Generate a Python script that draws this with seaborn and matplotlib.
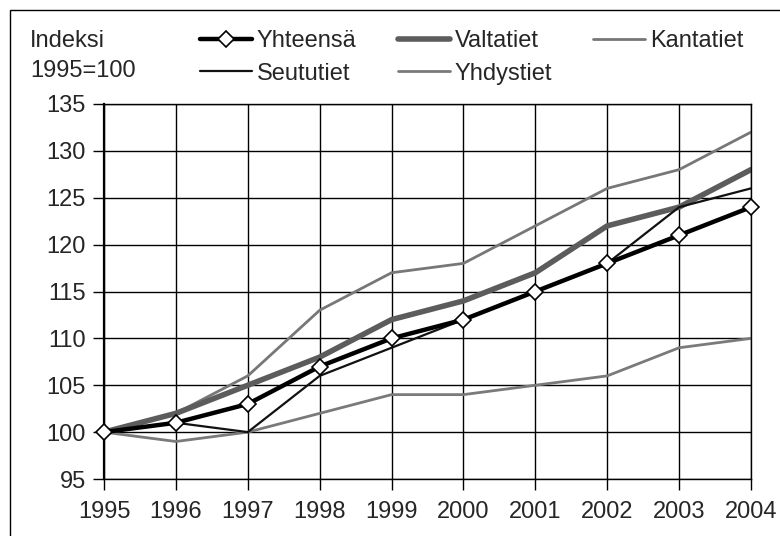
import pandas as pd
import matplotlib.pyplot as plt
import seaborn as sns
from matplotlib.patches import Rectangle

# Liikenteen kehitys, indeksi 1995=100
vuodet = [1995, 1996, 1997, 1998, 1999, 2000, 2001, 2002, 2003, 2004]
yhteensa = [100, 101, 103, 107, 110, 112, 115, 118, 121, 124]
valtatiet = [100, 102, 105, 108, 112, 114, 117, 122, 124, 128]
kantatiet = [100, 102, 106, 113, 117, 118, 122, 126, 128, 132]
seututiet = [100, 101, 100, 106, 109, 112, 115, 118, 124, 126]
yhdystiet = [100, 99, 100, 102, 104, 104, 105, 106, 109, 110]

df = pd.DataFrame({
    "Vuosi": vuodet,
    "Yhteensä": yhteensa,
    "Valtatiet": valtatiet,
    "Kantatiet": kantatiet,
    "Seututiet": seututiet,
    "Yhdystiet": yhdystiet,
})

sns.set_style("white")
plt.rcParams["font.family"] = ["Liberation Sans", "DejaVu Sans"]
plt.rcParams["font.size"] = 17

fig = plt.figure(figsize=(7.8, 5.36), dpi=100)
ax = fig.add_axes([104 / 780, 1 - 479 / 536, (751 - 104) / 780, (479 - 104) / 536])

# piirtojärjestys: ohuet alle, kokonaissumma päällimmäiseksi
sns.lineplot(data=df, x="Vuosi", y="Yhdystiet", ax=ax, color="#7a7a7a", lw=2, label="Yhdystiet")
sns.lineplot(data=df, x="Vuosi", y="Kantatiet", ax=ax, color="#777777", lw=2, label="Kantatiet")
sns.lineplot(data=df, x="Vuosi", y="Valtatiet", ax=ax, color="#5c5c5c", lw=4, label="Valtatiet")
sns.lineplot(data=df, x="Vuosi", y="Seututiet", ax=ax, color="#111111", lw=1.6, label="Seututiet")
sns.lineplot(data=df, x="Vuosi", y="Yhteensä", ax=ax, color="black", lw=3.2, marker="D",
             markersize=8, markerfacecolor="white", markeredgecolor="black",
             markeredgewidth=1.2, label="Yhteensä", clip_on=False, zorder=5)

ax.set_xlim(1995, 2004)
ax.set_ylim(95, 135)
ax.set_xticks(vuodet)
ax.set_yticks(range(95, 136, 5))
ax.set_xlabel("")
ax.set_ylabel("")
ax.grid(True, color="black", lw=1)
ax.set_axisbelow(True)
for s in ax.spines.values():
    s.set_color("black")
    s.set_linewidth(1)
ax.spines["left"].set_linewidth(1.6)
ax.tick_params(axis="both", direction="out", length=8, width=1, color="black",
               labelsize=17, pad=5, left=True, bottom=True)
ax.tick_params(axis="x", pad=8)

h, l = ax.get_legend_handles_labels()
lookup = dict(zip(l, h))
order = ["Yhteensä", "Seututiet", "Valtatiet", "Yhdystiet", "Kantatiet"]
ax.legend([lookup[k] for k in order], order, ncol=3, loc="upper left",
          bbox_to_anchor=(200 / 780, 1 - 30 / 536), bbox_transform=fig.transFigure,
          frameon=False, borderpad=0, borderaxespad=0, handlelength=2.2,
          handletextpad=0.2, columnspacing=1.75, labelspacing=0.45, fontsize=17)

fig.text(30 / 780, 1 - 30 / 536, "Indeksi\n1995=100", ha="left", va="top",
         fontsize=17, linespacing=1.45)

# kuvan reunaviiva
fig.patches.append(Rectangle((10 / 780, -0.05), 1.0, 1.05 - 10 / 536, transform=fig.transFigure,
                             fill=False, edgecolor="black", lw=1))

fig.savefig("out.png", dpi=100)
